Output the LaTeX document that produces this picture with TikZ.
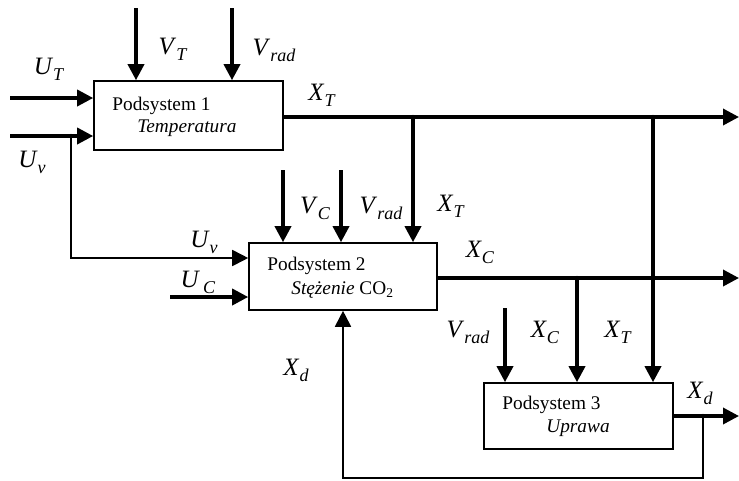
\documentclass[tikz,border=0pt]{standalone}
\usepackage{fontspec}
\setmainfont{Liberation Serif}
\usetikzlibrary{arrows.meta}

\tikzset{
  blok/.style={draw, line width=1.6pt, minimum width=189pt, minimum height=67pt, inner sep=0pt},
  sygnal/.style={line width=3.5pt, -{Triangle[length=16pt,width=16pt]}},
  powrot/.style={sygnal, line width=1.8pt},
  opis/.style={font=\fontsize{25}{27}\selectfont, inner sep=0pt},
  tekst/.style={font=\fontsize{19.3}{22}\selectfont, anchor=base west, inner sep=0pt},
  wezel/.style={fill=black},
}
\newcommand{\zm}[2]{\textit{#1}\raisebox{-6pt}{\fontsize{18}{18}\selectfont\textit{#2}}}

\begin{document}
\begin{tikzpicture}[x=1pt, y=-1pt]
    \useasboundingbox (0,0) rectangle (739,480);

    % Bloki
    \node[blok, minimum height=69pt] (p1) at (188.5,115.5) {};
    \node[blok, minimum width=188pt] (p2) at (343,276.5) {};
    \node[blok, minimum height=66pt] (p3) at (578.5,416) {};

    \node[tekst] (t1a) at ([xshift=19pt, yshift=-30pt]p1.north west) {Podsystem 1};
    \node[tekst] (t1b) at ([xshift=44pt, yshift=-52pt]p1.north west) {\itshape Temperatura};
    \node[tekst] (t2a) at ([xshift=19pt, yshift=-28pt]p2.north west) {Podsystem 2};
    \node[tekst] (t2b) at ([xshift=43pt, yshift=-52pt]p2.north west) {\textit{Stężenie} CO\textsubscript{2}};
    \node[tekst] (t3a) at ([xshift=19pt, yshift=-27pt]p3.north west) {Podsystem 3};
    \node[tekst] (t3b) at ([xshift=63pt, yshift=-50pt]p3.north west) {\itshape Uprawa};

    % Wejscia podsystemu 1
    \coordinate (uT) at (10,98);
    \coordinate (uv) at (10,136);
    \coordinate (vT) at (136,8);
    \coordinate (vr1) at (232,8);
    \draw[sygnal] (uT) -- (uT -| p1.west);
    \draw[sygnal] (uv) -- (uv -| p1.west);
    \draw[sygnal] (vT) -- (vT |- p1.north);
    \draw[sygnal] (vr1) -- (vr1 |- p1.north);

    % Wyjscie X_T i odgalezienia
    \coordinate (xT) at (739,117);
    \coordinate (j1) at (413,117);
    \coordinate (j2) at (653,117);
    \draw[sygnal] (xT -| p1.east) -- (xT);
    \draw[sygnal] (j1) -- (j1 |- p2.north);
    \draw[sygnal] (j2) -- (j2 |- p3.north);

    % Wejscia podsystemu 2
    \coordinate (j0) at (71,136);
    \coordinate (k1) at (71,258);
    \coordinate (uC) at (170,297);
    \coordinate (vC) at (283,170);
    \coordinate (vr2) at (341,170);
    \draw[powrot] (j0) -- (k1) -- (k1 -| p2.west);
    \draw[sygnal] (uC) -- (uC -| p2.west);
    \draw[sygnal] (vC) -- (vC |- p2.north);
    \draw[sygnal] (vr2) -- (vr2 |- p2.north);

    % Wyjscie X_C i odgalezienie
    \coordinate (xC) at (739,278);
    \coordinate (j3) at (577,278);
    \draw[sygnal] (xC -| p2.east) -- (xC);
    \draw[sygnal] (j3) -- (j3 |- p3.north);

    % Wejscie V_rad podsystemu 3
    \coordinate (vr3) at (505,308);
    \draw[sygnal] (vr3) -- (vr3 |- p3.north);

    % Wyjscie X_d i sprzezenie zwrotne
    \coordinate (xd) at (739,416);
    \coordinate (j4) at (703,416);
    \coordinate (k2) at (343,478);
    \draw[sygnal] (xd -| p3.east) -- (xd);
    \draw[powrot] (j4) |- (k2) -- (k2 |- p2.south);

    % Punkty rozgalezien
    \foreach \j in {j0, j1, j2, j3, j4}
        \fill[wezel] (\j) circle (2.2pt);

    % Opisy sygnalow
    \node[opis] (lUT)  at (49,69)   {\zm{U}{T}};
    \node[opis] (lUv)  at (32,162)  {\zm{U}{v}};
    \node[opis] (lVT)  at (173,49)  {\zm{V}{T}};
    \node[opis] (lVr1) at (274,50)  {\zm{V}{rad}};
    \node[opis] (lXT1) at (322,95)  {\zm{X}{T}};
    \node[opis] (lVC)  at (315,208) {\zm{V}{C}};
    \node[opis] (lVr2) at (381,208) {\zm{V}{rad}};
    \node[opis] (lXT2) at (451,206) {\zm{X}{T}};
    \node[opis] (lUv2) at (204,242) {\zm{U}{v}};
    \node[opis] (lUC)  at (198,282) {\zm{U}{\,C}};
    \node[opis] (lXC1) at (480,252) {\zm{X}{C}};
    \node[opis] (lXd1) at (296,370) {\zm{X}{d}};
    \node[opis] (lVr3) at (468,332) {\zm{V}{rad}};
    \node[opis] (lXC2) at (545,332) {\zm{X}{C}};
    \node[opis] (lXT3) at (618,332) {\zm{X}{T}};
    \node[opis] (lXd2) at (700,393) {\zm{X}{d}};
\end{tikzpicture}
\end{document}
